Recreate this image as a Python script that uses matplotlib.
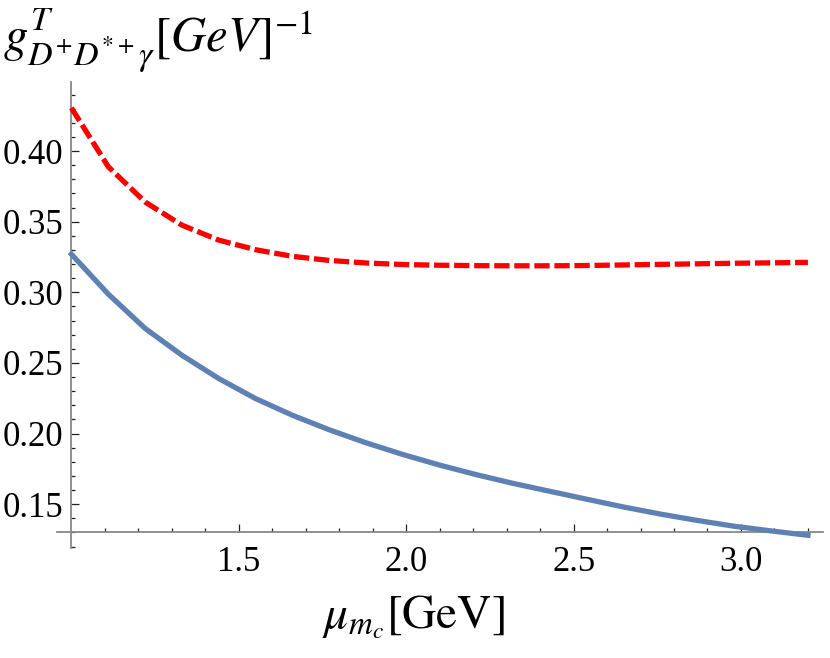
import matplotlib
matplotlib.use("Agg")
import matplotlib.pyplot as plt
from matplotlib.ticker import FixedLocator

# data (sampled at 1.0 + 0.11 k)
mu = [1.00, 1.11, 1.22, 1.33, 1.44, 1.55, 1.66, 1.77, 1.88, 1.99, 2.10,
      2.21, 2.32, 2.43, 2.54, 2.65, 2.76, 2.87, 2.98, 3.09, 3.20]
g_blue = [0.3270, 0.2988, 0.2745, 0.2555, 0.2390, 0.2248, 0.2130, 0.2027,
          0.1935, 0.1852, 0.1777, 0.1709, 0.1647, 0.1591, 0.1535, 0.1480,
          0.1430, 0.1385, 0.1344, 0.1311, 0.1280]
g_red = [0.4306, 0.3890, 0.3640, 0.3476, 0.3370, 0.3302, 0.3255, 0.3226,
         0.3208, 0.3197, 0.3192, 0.3189, 0.3188, 0.3188, 0.3190, 0.3194,
         0.3198, 0.3202, 0.3206, 0.3209, 0.3212]
xticks = [1.5, 2.0, 2.5, 3.0]
xticklabels = ["1.5", "2.0", "2.5", "3.0"]
yticks = [0.15, 0.20, 0.25, 0.30, 0.35, 0.40]
yticklabels = ["0.15", "0.20", "0.25", "0.30", "0.35", "0.40"]
xminor = [1.1, 1.2, 1.3, 1.4, 1.6, 1.7, 1.8, 1.9, 2.1, 2.2, 2.3, 2.4,
          2.6, 2.7, 2.8, 2.9, 3.1, 3.2]
yminor = [0.12, 0.13, 0.14, 0.16, 0.17, 0.18, 0.19, 0.21, 0.22, 0.23, 0.24,
          0.26, 0.27, 0.28, 0.29, 0.31, 0.32, 0.33, 0.34, 0.36, 0.37, 0.38,
          0.39, 0.41, 0.42, 0.43, 0.44]

plt.rcParams['mathtext.fontset'] = 'stix'
plt.rcParams['font.family'] = ['Liberation Serif', 'DejaVu Serif']

W, H = 830, 658
fig = plt.figure(figsize=(W / 100, H / 100), dpi=100)
ax = fig.add_axes([57 / W, 110 / H, 766 / W, (576.1 - 110) / H])

ax.plot(mu, g_blue, color='#5E81B5', lw=3.8, solid_joinstyle='round', zorder=3)
ax.plot(mu, g_red, color='#FF0000', lw=3.8, dashes=(2.9, 0.9),
        dash_capstyle='butt', zorder=3)

ax.set_xlim(0.957, 3.245)
ax.set_ylim(0.119, 0.449)

for s in ['top', 'right']:
    ax.spines[s].set_visible(False)
ax.spines['left'].set_position(('data', 1.0))
ax.spines['bottom'].set_position(('data', 0.13))
for s in ['left', 'bottom']:
    ax.spines[s].set_color('#888888')
    ax.spines[s].set_linewidth(1.3)

ax.set_xticks(xticks)
ax.set_xticklabels(xticklabels)
ax.set_yticks(yticks)
ax.set_yticklabels(yticklabels)
ax.xaxis.set_minor_locator(FixedLocator(xminor))
ax.yaxis.set_minor_locator(FixedLocator(yminor))
ax.tick_params(which='major', direction='in', length=5.5, width=0.9,
               color='#222222', labelsize=25, pad=6)
ax.tick_params(which='minor', direction='in', length=2.8, width=0.9,
               color='#222222')
ax.tick_params(axis='x', which='major', pad=10)

fig.text(413 / W, 1 - 617 / H, r'$\mu_{m_c}[\mathrm{GeV}]$', fontsize=34,
         ha='center', va='center')
fig.text(3 / W, 1 - 6 / H, r'$g^{T}_{D^{+}D^{*+}\gamma}[GeV]^{-1}$',
         fontsize=35, ha='left', va='top')

fig.savefig('out.png', dpi=100)
